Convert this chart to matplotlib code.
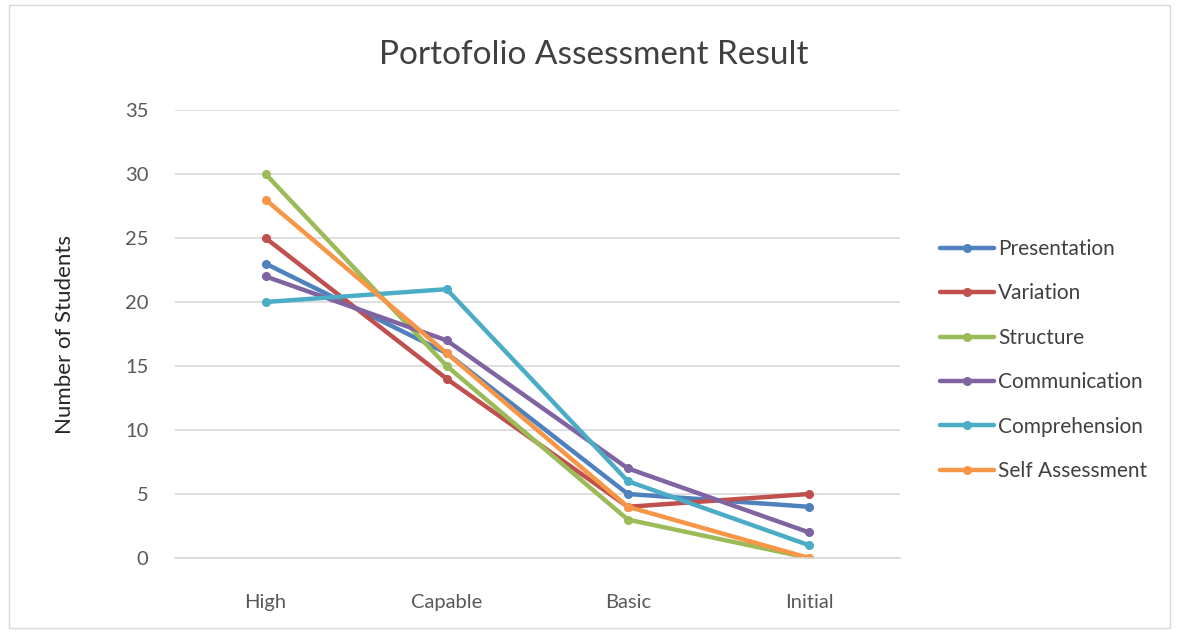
import matplotlib
matplotlib.use("Agg")
import matplotlib.pyplot as plt
from matplotlib.patches import Rectangle

categories = ["High", "Capable", "Basic", "Initial"]
series_names = ["Presentation", "Variation", "Structure", "Communication", "Comprehension", "Self Assessment"]
presentation = [23, 16, 5, 4]
variation = [25, 14, 4, 5]
structure = [30, 15, 3, 0]
communication = [22, 17, 7, 2]
comprehension = [20, 21, 6, 1]
self_assessment = [28, 16, 4, 0]
series_values = [presentation, variation, structure, communication, comprehension, self_assessment]
colors = ["#4F81BD", "#C0504D", "#9BBB59", "#8064A2", "#4BACC6", "#F79646"]

plt.rcParams['font.family'] = ['Lato', 'DejaVu Sans']

fig = plt.figure(figsize=(11.79, 6.33), dpi=100)
ax = fig.add_axes([0.1484, 0.1185, 0.6146, 0.7077])

x = [i + 0.5 for i in range(len(categories))]
for name, vals, c in zip(series_names, series_values, colors):
    ax.plot(x, vals, color=c, lw=3.2, marker='o', markersize=5.5, label=name,
            solid_capstyle='round', solid_joinstyle='round')

ax.set_xlim(0, 4)
ax.set_ylim(0, 35)
ax.set_yticks(range(0, 36, 5))
ax.set_xticks(x)
ax.set_xticklabels(categories)
ax.grid(axis='y', color='#D9D9D9', lw=1.2)
ax.set_axisbelow(True)
for s in ['top', 'right', 'left']:
    ax.spines[s].set_visible(False)
ax.spines['bottom'].set_color('#D9D9D9')
ax.spines['bottom'].set_linewidth(1.2)
ax.tick_params(axis='both', length=0, colors='#595959', labelsize=14.5)
ax.tick_params(axis='x', pad=26)
ax.tick_params(axis='y', pad=19)
ax.set_ylabel("Number of Students", fontsize=16, color='#262626', labelpad=36)
fig.text(0.504, 0.913, "Portofolio Assessment Result", ha='center', va='center',
         fontsize=24, color='#404040')

leg = ax.legend(loc='center left', bbox_to_anchor=(1.03, 0.442), frameon=False,
                fontsize=15, handlelength=2.6, handletextpad=0.2, labelspacing=1.17,
                labelcolor='#404040')

fig.patches.append(Rectangle((0.008, 0.008), 0.984, 0.984, transform=fig.transFigure,
                             fill=False, edgecolor='#D9D9D9', lw=1))

fig.savefig("out.png", dpi=100)
